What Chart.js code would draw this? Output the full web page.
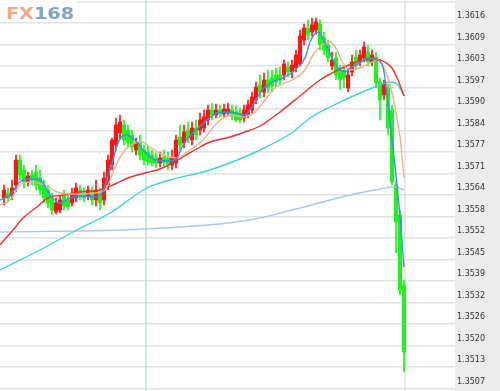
<!DOCTYPE html>
<html><head><meta charset="utf-8">
<script src="https://cdn.jsdelivr.net/npm/chart.js@4/dist/chart.umd.min.js"></script>
<style>html,body{margin:0;padding:0;background:#fff}canvas{display:block}</style>
</head><body>
<canvas id="c" width="500" height="391"></canvas>
<script>
// ---- data ----
const opens  = [1.35633,1.35648,1.35639,1.35672,1.35747,1.35717,1.35681,1.35702,1.35711,1.35693,
1.35672,1.35657,1.35633,1.35591,1.35597,1.35639,1.35627,1.35618,1.35633,1.35657,
1.35648,1.35639,1.35654,1.35627,1.35651,1.35627,1.35672,1.35732,1.35792,1.35828,
1.35852,1.35837,1.35822,1.35777,1.35801,1.35777,1.35771,1.35762,1.35753,1.35738,
1.35756,1.35753,1.35732,1.35738,1.35816,1.35798,1.35837,1.35807,1.35843,1.35837,
1.35843,1.35867,1.35897,1.35882,1.35897,1.35885,1.35888,1.35897,1.35891,1.35888,
1.35873,1.35885,1.35897,1.35927,1.35972,1.35951,1.35987,1.35993,1.36002,1.36002,
1.36002,1.36026,1.36011,1.36023,1.36035,1.36107,1.36143,1.36131,1.36137,1.36155,
1.36113,1.36092,1.36029,1.36053,1.36017,1.36017,1.35963,1.36011,1.36056,1.36041,
1.36053,1.36071,1.36041,1.36056,1.35981,1.35942,1.35963,1.35897,1.35672,1.35582,
1.35372];
const highs  = [1.35672,1.35663,1.35687,1.35762,1.35762,1.35732,1.35711,1.35717,1.35732,1.35717,
1.35687,1.35672,1.35648,1.35633,1.35639,1.35657,1.35648,1.35663,1.35678,1.35672,
1.35663,1.35669,1.35666,1.35687,1.35663,1.35711,1.35762,1.35813,1.35873,1.35882,
1.35867,1.35852,1.35837,1.35813,1.35822,1.35792,1.35789,1.35777,1.35768,1.35771,
1.35777,1.35771,1.35777,1.35822,1.35852,1.35852,1.35861,1.35861,1.35867,1.35888,
1.35897,1.35912,1.35918,1.35915,1.35912,1.35915,1.35918,1.35912,1.35909,1.35903,
1.35912,1.35927,1.35951,1.35981,1.36002,1.36008,1.36017,1.36017,1.36023,1.36026,
1.36047,1.36041,1.36047,1.36077,1.36137,1.36155,1.36167,1.36173,1.36173,1.36167,
1.36131,1.36107,1.36071,1.36071,1.36032,1.36032,1.36017,1.36062,1.36077,1.36077,
1.36101,1.36092,1.36077,1.36071,1.35993,1.35987,1.35975,1.35912,1.35687,1.35597,
1.35387];
const lows   = [1.35612,1.35621,1.35627,1.35651,1.35687,1.35663,1.35669,1.35672,1.35657,1.35642,
1.35618,1.35603,1.35582,1.35585,1.35588,1.35597,1.35597,1.35609,1.35621,1.35627,
1.35621,1.35627,1.35612,1.35609,1.35597,1.35612,1.35657,1.35717,1.35777,1.35813,
1.35792,1.35783,1.35771,1.35762,1.35747,1.35732,1.35732,1.35729,1.35723,1.35726,
1.35726,1.35717,1.35717,1.35723,1.35777,1.35783,1.35798,1.35792,1.35807,1.35822,
1.35831,1.35852,1.35867,1.35873,1.35876,1.35876,1.35879,1.35867,1.35861,1.35858,
1.35861,1.35873,1.35888,1.35915,1.35933,1.35936,1.35948,1.35951,1.35966,1.35972,
1.35987,1.35996,1.35993,1.36011,1.36029,1.36092,1.36107,1.36119,1.36125,1.36077,
1.36062,1.36041,1.36017,1.35987,1.35957,1.35963,1.35951,1.35999,1.36017,1.36029,
1.36041,1.36029,1.36029,1.35963,1.35867,1.35927,1.35822,1.35672,1.35468,1.35342,
1.35111];
const closes = [1.35657,1.35633,1.35663,1.35747,1.35702,1.35681,1.35699,1.35687,1.35672,1.35657,
1.35633,1.35618,1.35597,1.35618,1.35627,1.35609,1.35606,1.35648,1.35663,1.35636,
1.35633,1.35657,1.35627,1.35657,1.35618,1.35693,1.35747,1.35807,1.35852,1.35861,
1.35807,1.35801,1.35786,1.35798,1.35762,1.35747,1.35741,1.35738,1.35738,1.35753,
1.35741,1.35735,1.35756,1.35807,1.35792,1.35831,1.35813,1.35843,1.35822,1.35867,
1.35876,1.35897,1.35882,1.35897,1.35885,1.35900,1.35900,1.35879,1.35867,1.35867,
1.35897,1.35912,1.35936,1.35966,1.35951,1.35987,1.35963,1.35969,1.35981,1.35987,
1.36035,1.36011,1.36032,1.36062,1.36119,1.36143,1.36122,1.36152,1.36161,1.36092,
1.36077,1.36053,1.36047,1.36002,1.35987,1.35993,1.36002,1.36041,1.36032,1.36062,
1.36086,1.36041,1.36062,1.35978,1.35927,1.35975,1.35843,1.35681,1.35561,1.35357,
1.35171];
const candleIdx = opens.map((_, i) => i);

// moving-average lines: [candle index, price]
const maFast   = [[-1,1.35627],[1.5,1.35642],[4,1.35681],[6.5,1.35690],[9,1.35687],[11.5,1.35642],[14,1.35618],[16.5,1.35633],[19,1.35639],[22.75,1.35636],[24.5,1.35648],[27,1.35738],[28.5,1.35798],[30.25,1.35822],[32.75,1.35807],[35.25,1.35771],[37.75,1.35747],[41.5,1.35744],[43.25,1.35753],[44.75,1.35792],[47.25,1.35828],[50.75,1.35867],[53.25,1.35888],[56.5,1.35891],[60.25,1.35882],[62,1.35906],[64.5,1.35957],[67,1.35981],[70.25,1.35996],[72.75,1.36017],[75.25,1.36053],[76.5,1.36101],[78.5,1.36131],[80.75,1.36086],[82.25,1.36047],[84,1.36017],[85.25,1.36011],[86.5,1.36023],[89,1.36038],[90.75,1.36053],[93.25,1.36047],[94.5,1.36035],[95.25,1.35993],[96,1.35918],[97.25,1.35783],[98.75,1.35612],[100,1.35426]];
const maMid    = [[-1,1.35612],[1.5,1.35627],[4,1.35672],[6.5,1.35681],[10.25,1.35672],[13.25,1.35651],[16.5,1.35645],[19,1.35645],[22.75,1.35648],[25.25,1.35657],[27.75,1.35726],[30.25,1.35777],[32.75,1.35798],[34.5,1.35801],[36.5,1.35786],[39.75,1.35762],[43.25,1.35753],[46.5,1.35777],[49.75,1.35807],[53.25,1.35858],[56.5,1.35882],[60.25,1.35876],[62.75,1.35891],[65.25,1.35927],[67.75,1.35963],[72,1.35987],[75.25,1.36017],[77.25,1.36062],[79.5,1.36092],[81.5,1.36101],[83.25,1.36077],[84.75,1.36038],[86.5,1.36017],[89,1.36023],[91.5,1.36038],[93.25,1.36047],[95.25,1.36017],[97.25,1.35936],[99,1.35816],[100,1.35693]];
const maRed    = [[-1,1.35492],[2.25,1.35537],[4.75,1.35573],[8.25,1.35606],[11,1.35633],[15.25,1.35642],[19,1.35651],[24,1.35657],[27.75,1.35675],[31,1.35693],[35.25,1.35708],[39,1.35720],[44.75,1.35756],[49,1.35786],[51.5,1.35801],[56.5,1.35816],[60.25,1.35831],[64,1.35849],[69,1.35891],[74,1.35939],[79,1.35987],[84,1.36020],[89,1.36044],[92.75,1.36050],[95.25,1.36041],[97,1.36023],[98.5,1.35987],[100,1.35939]];
const maCyan   = [[-1,1.35417],[9,1.35477],[18.25,1.35537],[26.5,1.35588],[35.75,1.35663],[41.5,1.35687],[51.5,1.35717],[64,1.35777],[72.25,1.35831],[76.5,1.35873],[81.5,1.35906],[89,1.35948],[94,1.35972],[96.5,1.35981],[98.5,1.35972],[100,1.35939]];
const maSlow   = [[-1,1.35531],[35.5,1.35540],[61.5,1.35567],[74,1.35603],[86.5,1.35642],[94,1.35660],[97.75,1.35666],[100,1.35657]];

const tickLabels = ['', '1.3616','1.3609','1.3603','1.3597','1.3590','1.3584','1.3577','1.3571','1.3564',
  '1.3558','1.3552','1.3545','1.3539','1.3532','1.3526','1.3520','1.3513','1.3507'];
const tickTop = 1.362225, tickStep = 0.000645;
const tickValues = tickLabels.map((_, k) => tickTop - k * tickStep);

const cursorIdx = 35.5;   // vertical cyan marker
const lastIdx = 100.25;   // vertical grid at latest bar

// ---- chart ----
const UP = '#ff1414', DOWN = '#1ff21f';
const col = candleIdx.map(i => closes[i] >= opens[i] ? UP : DOWN);
const toPts = arr => arr.map(p => ({x: p[0], y: p[1]}));
const maDs = (data, color) => ({type: 'line', data: toPts(data), borderColor: color, borderWidth: 1.4,
  pointRadius: 0, cubicInterpolationMode: 'monotone', fill: false, order: 0});

const decor = {
  id: 'decor',
  beforeDraw(chart) {
    const {ctx, chartArea: a, width, height} = chart;
    ctx.save();
    ctx.fillStyle = '#ffffff'; ctx.fillRect(0, 0, width, height);
    ctx.fillStyle = '#ececec'; ctx.fillRect(a.right, 0, width - a.right, height);
    ctx.restore();
  },
  beforeDatasetsDraw(chart) {
    const {ctx, chartArea: a, scales: {x}} = chart;
    ctx.save();
    ctx.lineWidth = 1.5;
    ctx.strokeStyle = '#e0e0e0';
    let px = x.getPixelForValue(lastIdx);
    ctx.beginPath(); ctx.moveTo(px, a.top); ctx.lineTo(px, a.bottom); ctx.stroke();
    ctx.strokeStyle = '#b2e6e6';
    px = x.getPixelForValue(cursorIdx);
    ctx.beginPath(); ctx.moveTo(px, a.top); ctx.lineTo(px, a.bottom); ctx.stroke();
    ctx.restore();
  },
  afterDraw(chart) {
    const {ctx} = chart;
    ctx.save();
    ctx.fillStyle = '#ffffff'; ctx.fillRect(0, 0, 78, 20);
    ctx.font = 'bold 15px "DejaVu Sans"';
    ctx.textBaseline = 'alphabetic';
    ctx.translate(6, 18.5);
    ctx.scale(1.28, 1);
    ctx.fillStyle = '#f2a98a'; ctx.fillText('FX', 0, 0);
    const w = ctx.measureText('FX').width;
    ctx.fillStyle = '#7fa4c6'; ctx.fillText('168', w, 0);
    ctx.restore();
  }
};

new Chart(document.getElementById('c'), {
  data: {
    datasets: [
      maDs(maFast, '#3d8fe6'),
      maDs(maMid, '#e9b38c'),
      maDs(maRed, '#ee3030'),
      maDs(maCyan, '#3fd3d3'),
      maDs(maSlow, '#a9c9e2'),
      {type: 'bar', data: candleIdx.map(i => ({x: i, y: [opens[i], closes[i]]})), backgroundColor: col,
        barThickness: 3.5, grouped: false, borderSkipped: false, borderWidth: 0, order: 1},
      {type: 'bar', data: candleIdx.map(i => ({x: i, y: [lows[i], highs[i]]})), backgroundColor: col,
        barThickness: 1, grouped: false, borderSkipped: false, borderWidth: 0, order: 2}
    ]
  },
  options: {
    responsive: false, animation: false, devicePixelRatio: 1,
    layout: {padding: 0},
    plugins: {legend: {display: false}, tooltip: {enabled: false}},
    scales: {
      x: {type: 'linear', min: -1, max: 112.75, display: false, offset: false, grid: {offset: false}},
      y: {
        position: 'right', min: 1.35054, max: 1.36227,
        afterBuildTicks(s) { s.ticks = tickValues.map(v => ({value: v})); },
        afterFit(s) { s.width = 45; s.paddingTop = 0; s.paddingBottom = 0; },
        grid: {color: '#e2e2e2', lineWidth: 1.5, drawTicks: false},
        border: {display: false},
        ticks: {
          callback: (v, i) => tickLabels[i], padding: 2, labelOffset: -7,
          color: '#333', font: {family: 'DejaVu Sans', size: 8}
        }
      }
    }
  },
  plugins: [decor]
});
</script>
</body></html>
